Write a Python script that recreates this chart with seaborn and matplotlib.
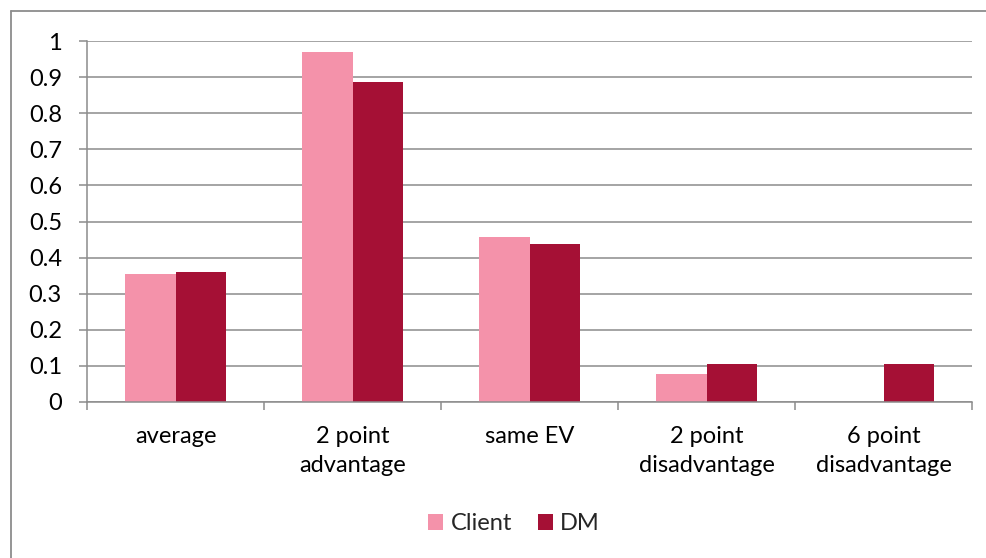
import pandas as pd
import numpy as np
import matplotlib
matplotlib.use('Agg')
import matplotlib.pyplot as plt
from matplotlib.lines import Line2D
from matplotlib.ticker import FixedLocator
import seaborn as sns

categories = ['average', '2 point\nadvantage', 'same EV', '2 point\ndisadvantage', '6 point\ndisadvantage']
client = [0.355, 0.97, 0.458, 0.077, 0.0]
dm = [0.36, 0.886, 0.437, 0.104, 0.104]
series = ['Client', 'DM']
colors = ['#F492AA', '#A51035']

df = pd.DataFrame({
    'category': categories * 2,
    'series': ['Client'] * len(categories) + ['DM'] * len(categories),
    'value': client + dm,
})

sns.set_style('white')
plt.rcParams['font.family'] = ['Lato', 'DejaVu Sans']
fs = 17

fig = plt.figure(figsize=(9.87, 5.58), dpi=100)
ax = fig.add_axes([87 / 987, 1 - 402 / 558, (972 - 87) / 987, (402 - 41) / 558])

sns.barplot(data=df, x='category', y='value', hue='series', hue_order=series,
            palette=colors, order=categories, width=0.57, gap=0,
            linewidth=0, saturation=1, ax=ax)

ax.set_ylim(0, 1)
ax.set_xlim(-0.5, len(categories) - 0.5)
ax.set_yticks(np.arange(0, 1.01, 0.1))
ax.set_yticklabels(['0'] + ['%.1f' % v for v in np.arange(0.1, 0.95, 0.1)] + ['1'])
ax.grid(axis='y', color='#8c8c8c', linewidth=1.1)
ax.set_axisbelow(True)
ax.set_xlabel('')
ax.set_ylabel('')

for s in ['top', 'right']:
    ax.spines[s].set_visible(False)
for s in ['left', 'bottom']:
    ax.spines[s].set_color('#8c8c8c')
    ax.spines[s].set_linewidth(1.1)

ax.tick_params(axis='y', which='major', direction='out', length=6, width=1.1,
               color='#8c8c8c', left=True, labelsize=fs, pad=12, labelcolor='black')
ax.xaxis.set_minor_locator(FixedLocator(np.arange(-0.5, len(categories), 1.0)))
ax.tick_params(axis='x', which='minor', direction='out', length=6, width=1.1,
               color='#8c8c8c', bottom=True)
ax.tick_params(axis='x', which='major', length=0, labelsize=fs, pad=17, labelcolor='black')
for lbl in ax.get_xticklabels():
    lbl.set_linespacing(1.5)

leg = ax.legend(loc='center', bbox_to_anchor=(514 / 987, 1 - 524 / 558),
                bbox_transform=fig.transFigure, ncol=2, frameon=False,
                fontsize=fs, handlelength=0.65, handleheight=0.65,
                handletextpad=0.3, columnspacing=1.1)

# outer chart frame
fig.add_artist(Line2D([11 / 987, 1], [1 - 11 / 558, 1 - 11 / 558], color='#8c8c8c',
                      linewidth=1.3, transform=fig.transFigure))
fig.add_artist(Line2D([11 / 987, 11 / 987], [0, 1 - 11 / 558], color='#8c8c8c',
                      linewidth=1.3, transform=fig.transFigure))

fig.savefig('out.png', dpi=100)
